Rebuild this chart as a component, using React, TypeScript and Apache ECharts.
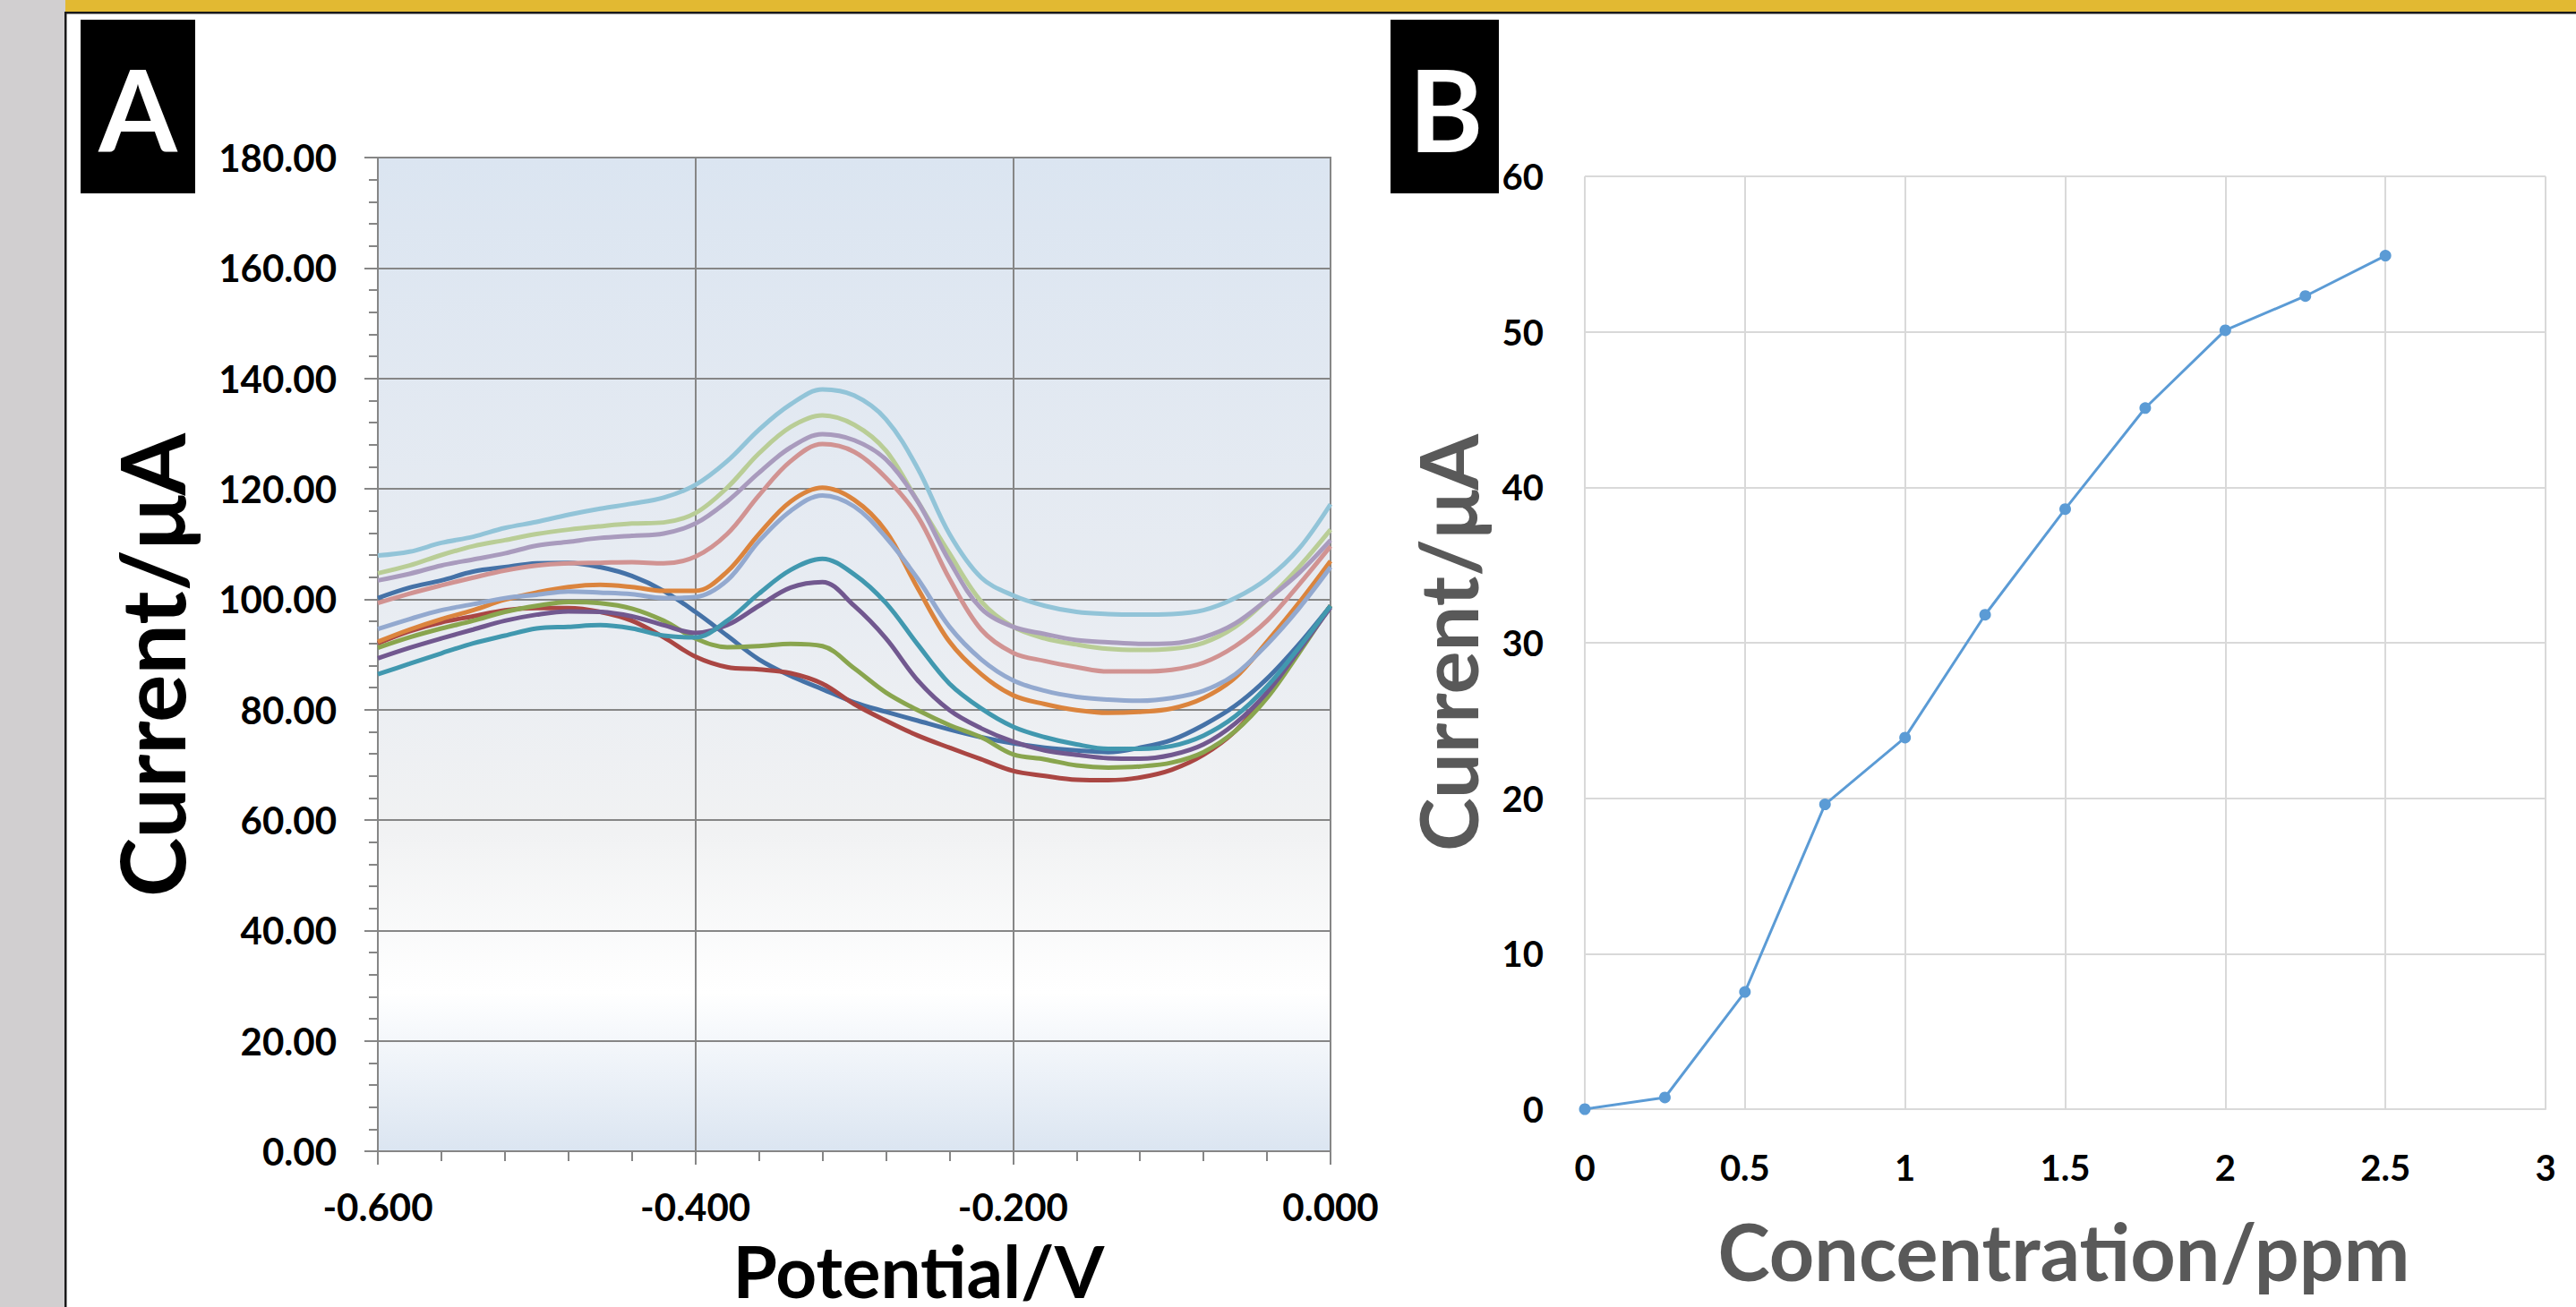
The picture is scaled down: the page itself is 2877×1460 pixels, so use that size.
import React, { useEffect, useRef } from "react";
import * as echarts from "echarts";

// ---------- Panel A: voltammograms (Potential / V vs Current / µA) ----------
const potentials = [
  -0.6, -0.58, -0.56, -0.54, -0.52, -0.5, -0.48, -0.46, -0.44, -0.42, -0.4,
  -0.38, -0.36, -0.34, -0.32, -0.3, -0.28, -0.26, -0.24, -0.22, -0.2, -0.18,
  -0.16, -0.14, -0.12, -0.1, -0.08, -0.06, -0.04, -0.02, 0.0,
];

const curve0 = [100.2, 102.1, 103.4, 105.0, 105.8, 106.5, 106.6, 105.8, 104.2, 101.5, 97.7, 93.4, 89.1, 86.1, 83.7, 81.3, 79.6, 78.0, 76.4, 75.0, 73.9, 73.1, 72.6, 72.3, 73.1, 74.5, 77.2, 80.7, 85.6, 91.8, 98.8];
const curve025 = [92.0, 94.2, 95.8, 96.9, 98.0, 98.4, 98.4, 97.7, 96.1, 93.1, 89.6, 87.7, 87.3, 86.6, 84.7, 81.0, 78.0, 75.3, 73.1, 71.0, 68.9, 68.0, 67.3, 67.2, 67.7, 69.1, 71.8, 76.1, 82.6, 90.7, 98.8];
const curve05 = [91.2, 93.1, 94.7, 96.1, 97.7, 98.8, 99.5, 99.3, 98.3, 96.1, 92.9, 91.3, 91.5, 91.9, 91.5, 87.5, 83.1, 79.9, 77.2, 75.0, 71.9, 71.0, 69.9, 69.5, 69.7, 70.4, 72.3, 76.1, 82.1, 90.2, 98.8];
const curve075 = [89.3, 91.2, 92.9, 94.5, 96.1, 97.2, 97.8, 97.7, 96.9, 95.3, 93.9, 95.3, 98.8, 102.1, 103.1, 98.8, 92.9, 85.3, 79.9, 76.6, 74.2, 72.6, 71.8, 71.2, 71.1, 71.8, 73.7, 77.5, 83.1, 90.7, 98.5];
const curve1 = [86.4, 88.3, 90.2, 92.0, 93.4, 94.7, 95.0, 95.3, 94.7, 93.4, 93.1, 96.1, 101.0, 105.3, 107.3, 104.5, 99.3, 91.8, 84.7, 80.2, 76.9, 75.0, 73.7, 72.9, 72.9, 73.4, 75.3, 78.8, 84.2, 91.2, 98.8];
const curve125 = [92.3, 94.5, 96.4, 98.0, 99.9, 101.2, 102.2, 102.6, 102.2, 101.5, 101.5, 105.0, 111.8, 117.7, 120.2, 118.0, 112.3, 102.0, 92.3, 86.4, 82.6, 81.0, 79.9, 79.4, 79.6, 80.2, 82.1, 85.8, 92.3, 99.3, 106.9];
const curve15 = [94.6, 96.4, 98.0, 99.1, 100.2, 100.8, 101.4, 101.2, 100.9, 100.2, 100.4, 103.4, 110.5, 116.0, 118.8, 116.8, 111.2, 103.7, 95.0, 89.1, 85.3, 83.4, 82.3, 81.8, 81.6, 82.1, 83.4, 86.4, 91.8, 98.3, 105.8];
const curve175 = [99.3, 101.0, 102.5, 103.9, 105.2, 106.1, 106.5, 106.6, 106.7, 106.5, 107.7, 111.8, 118.8, 125.0, 128.1, 126.7, 122.0, 115.0, 103.7, 94.5, 90.3, 88.8, 87.7, 86.9, 86.9, 87.2, 88.5, 91.5, 96.1, 102.6, 109.6];
const curve2 = [104.7, 106.1, 108.0, 109.6, 110.7, 111.8, 112.6, 113.2, 113.7, 113.9, 115.6, 120.2, 126.4, 131.2, 133.3, 131.6, 126.9, 117.7, 108.3, 99.6, 95.0, 92.9, 91.8, 91.0, 90.8, 91.0, 92.1, 95.0, 99.9, 105.8, 112.6];
const curve225 = [103.4, 104.6, 106.1, 107.2, 108.3, 109.7, 110.4, 111.1, 111.5, 111.9, 113.7, 117.7, 122.9, 127.5, 129.9, 128.8, 125.3, 117.7, 106.9, 98.3, 95.0, 93.7, 92.6, 92.2, 91.9, 92.0, 93.1, 95.6, 99.9, 104.7, 110.7];
const curve25 = [107.9, 108.6, 110.2, 111.3, 112.9, 114.0, 115.3, 116.4, 117.3, 118.4, 120.7, 125.0, 130.7, 135.3, 138.0, 136.9, 132.6, 123.7, 111.8, 103.9, 100.7, 98.8, 97.7, 97.3, 97.2, 97.3, 98.0, 100.2, 103.7, 109.1, 117.2];

const curveNames = ["0 ppm", "0.25 ppm", "0.5 ppm", "0.75 ppm", "1 ppm", "1.25 ppm", "1.5 ppm", "1.75 ppm", "2 ppm", "2.25 ppm", "2.5 ppm"];
const curves = [curve0, curve025, curve05, curve075, curve1, curve125, curve15, curve175, curve2, curve225, curve25];

// ---------- Panel B: calibration (Concentration / ppm vs Current / µA) ----------
const concentrations = [0, 0.25, 0.5, 0.75, 1, 1.25, 1.5, 1.75, 2, 2.25, 2.5];
const peakCurrents = [0, 0.75, 7.54, 19.6, 23.9, 31.8, 38.6, 45.1, 50.1, 52.3, 54.9];

// ---------- styles ----------
const curveColors = ["#4572A7", "#AA4643", "#89A54E", "#71588F", "#4198AF", "#DB843D", "#93A9CF", "#D19392", "#B9CD96", "#A99BBD", "#92C4D8"];
const FONT = "Lato, 'Noto Sans', sans-serif";
const AX = "#868686";

export default function App() {
  const ref = useRef<HTMLDivElement | null>(null);

  useEffect(() => {
    if (!ref.current) return;
    const chart = echarts.init(ref.current, undefined, { renderer: "svg" });

    const lineSeries = curves.map((c, i) => ({
      name: curveNames[i],
      type: "line",
      xAxisIndex: 0,
      yAxisIndex: 0,
      data: potentials.map((p, j) => [p, c[j]]),
      showSymbol: false,
      smooth: 0.35,
      lineStyle: { width: 5, color: curveColors[i] },
      itemStyle: { color: curveColors[i] },
      z: 3,
    }));

    const labelA = { color: "#000", fontFamily: FONT, fontWeight: "bold" as const, fontSize: 42 };
    const labelB = { color: "#000", fontFamily: FONT, fontWeight: "bold" as const, fontSize: 40 };

    chart.setOption({
      animation: false,
      backgroundColor: "#ffffff",
      grid: [
        {
          left: 422, top: 176, width: 1064, height: 1110,
          show: true,
          backgroundColor: {
            type: "linear", x: 0, y: 0, x2: 0, y2: 1,
            colorStops: [
              { offset: 0, color: "#dbe5f1" },
              { offset: 0.45, color: "#e8ecf2" },
              { offset: 0.68, color: "#f1f2f3" },
              { offset: 0.84, color: "#ffffff" },
              { offset: 1, color: "#dbe5f1" },
            ],
          },
          borderColor: AX,
          borderWidth: 2,
        },
        { left: 1770, top: 197, width: 1073, height: 1042, show: false },
      ],
      xAxis: [
        {
          type: "value", gridIndex: 0, min: -0.6, max: 0, interval: 0.2,
          axisLine: { show: true, onZero: false, lineStyle: { color: AX, width: 2 } },
          axisTick: { show: true, length: 15, lineStyle: { color: AX, width: 2 } },
          minorTick: { show: true, splitNumber: 5, length: 11, lineStyle: { color: AX, width: 2 } },
          splitLine: { show: true, lineStyle: { color: AX, width: 2 } },
          axisLabel: { ...labelA, margin: 41, formatter: (v: number) => v.toFixed(3) },
        },
        {
          type: "value", gridIndex: 1, min: 0, max: 3, interval: 0.5,
          axisLine: { show: true, onZero: false, lineStyle: { color: "#d9d9d9", width: 2 } },
          axisTick: { show: false },
          splitLine: { show: true, lineStyle: { color: "#d9d9d9", width: 2 } },
          axisLabel: { ...labelB, margin: 45, formatter: (v: number) => String(v) },
        },
      ],
      yAxis: [
        {
          type: "value", gridIndex: 0, min: 0, max: 180, interval: 20, position: "left",
          axisLine: { show: true, onZero: false, lineStyle: { color: AX, width: 2 } },
          axisTick: { show: true, length: 15, lineStyle: { color: AX, width: 2 } },
          minorTick: { show: true, splitNumber: 5, length: 10, lineStyle: { color: AX, width: 2 } },
          splitLine: { show: true, lineStyle: { color: AX, width: 2 } },
          axisLabel: { ...labelA, margin: 46, formatter: (v: number) => v.toFixed(2) },
        },
        {
          type: "value", gridIndex: 1, min: 0, max: 60, interval: 10, position: "left",
          axisLine: { show: false, onZero: false },
          axisTick: { show: false },
          splitLine: { show: true, lineStyle: { color: "#d9d9d9", width: 2 } },
          axisLabel: { ...labelB, margin: 46 },
        },
      ],
      series: [
        ...lineSeries,
        {
          name: "Calibration",
          type: "line",
          xAxisIndex: 1,
          yAxisIndex: 1,
          data: concentrations.map((c, i) => [c, peakCurrents[i]]),
          symbol: "circle",
          symbolSize: 13,
          showSymbol: true,
          lineStyle: { width: 3, color: "#5b9bd5" },
          itemStyle: { color: "#5b9bd5" },
          z: 3,
        },
      ],
      graphic: [
        { type: "rect", silent: true, shape: { x: 0, y: 0, width: 73, height: 1460 }, style: { fill: "#d1cfd0" } },
        { type: "rect", silent: true, shape: { x: 73, y: 0, width: 2804, height: 13 }, style: { fill: "#e2b932" } },
        { type: "rect", silent: true, shape: { x: 72, y: 13, width: 2805, height: 2.5 }, style: { fill: "#1a1a1a" } },
        { type: "rect", silent: true, shape: { x: 72, y: 13, width: 2.5, height: 1447 }, style: { fill: "#1a1a1a" } },
        { type: "rect", silent: true, shape: { x: 90, y: 22, width: 128, height: 194 }, style: { fill: "#000" } },
        { type: "rect", silent: true, shape: { x: 1553, y: 22, width: 121, height: 194 }, style: { fill: "#000" } },
        {
          type: "text", silent: true, x: 154, y: 121,
          style: { text: "A", fill: "#fff", fontFamily: FONT, fontWeight: "bold", fontSize: 126, align: "center", verticalAlign: "middle" },
        },
        {
          type: "text", silent: true, x: 1615, y: 121,
          style: { text: "B", fill: "#fff", fontFamily: FONT, fontWeight: "bold", fontSize: 126, align: "center", verticalAlign: "middle" },
        },
        {
          type: "text", silent: true, x: 168, y: 743, rotation: Math.PI / 2,
          style: { text: "Current/μA", fill: "#000", fontFamily: FONT, fontWeight: "bold", fontSize: 100, align: "center", verticalAlign: "middle" },
        },
        {
          type: "text", silent: true, x: 1026, y: 1419,
          style: { text: "Potential/V", fill: "#000", fontFamily: FONT, fontWeight: "bold", fontSize: 80, align: "center", verticalAlign: "middle" },
        },
        {
          type: "text", silent: true, x: 1616, y: 718, rotation: Math.PI / 2,
          style: { text: "Current/μA", fill: "#595959", fontFamily: FONT, fontWeight: "bold", fontSize: 90, align: "center", verticalAlign: "middle" },
        },
        {
          type: "text", silent: true, x: 2305, y: 1397,
          style: { text: "Concentration/ppm", fill: "#595959", fontFamily: FONT, fontWeight: "bold", fontSize: 88, align: "center", verticalAlign: "middle" },
        },
      ],
    });

    return () => chart.dispose();
  }, []);

  return (
    <div
      ref={ref}
      style={{ position: "fixed", left: 0, top: 0, width: 2877, height: 1460, background: "#fff" }}
    />
  );
}
